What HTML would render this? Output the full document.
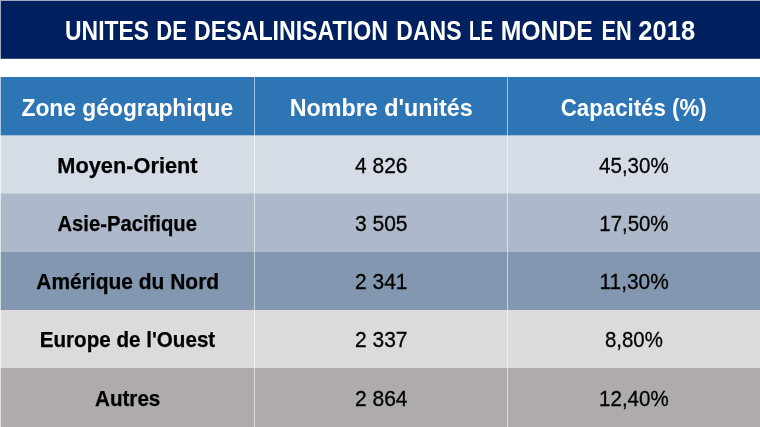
<!DOCTYPE html>
<html lang="fr">
<head>
<meta charset="utf-8">
<title>Unités de désalinisation dans le monde en 2018</title>
<style>
  html, body { margin: 0; padding: 0; }
  body {
    width: 760px; height: 427px; overflow: hidden; position: relative;
    background: #ffffff;
    font-family: "Liberation Sans", sans-serif;
  }
  .blk { position: absolute; left: 0; right: 0; }
  .banner { top: 0; height: 58px; background: #002060; }
  .head   { top: 77px; height: 58px; background: #2e75b6; }
  .r1 { top: 135px;   height: 58px;   background: #d6dce5; }
  .r2 { top: 194px;   height: 58px;   background: #adb9ca; }
  .r3 { top: 252px;   height: 58px;   background: #8497b0; }
  .r4 { top: 310px;   height: 58px;   background: #dbdbdb; }
  .r5 { top: 368px;   height: 59px;   background: #afabab; }
  .s58  { top: 58px;  height: 1px; background: #334d80; }
  .s135 { top: 135px; height: 1px; background: #a4bdd7; }
  .s193 { top: 193px; height: 1px; background: #c2cbd8; }
  .edge { position: absolute; left: 0; top: 0; width: 1px; height: 427px; background: rgba(255,255,255,.62); }
  .topedge { position: absolute; left: 1px; top: 0; right: 0; height: 1px; background: rgba(255,255,255,.62); }
  .vl { position: absolute; top: 77px; bottom: 0; width: 1px; background: rgba(255,255,255,.57); }
  .v1 { left: 254px; }
  .v2 { left: 507px; }

  .t { position: absolute; white-space: nowrap; text-align: center; line-height: 1; will-change: transform; }
  .t span { display: inline-block; transform-origin: 50% 50%; }
  .c0 { left: 1px; width: 759px; }
  .c1 { left: 1px; width: 253px; }
  .c2 { left: 255px; width: 252px; }
  .c3 { left: 508px; width: 252px; }
  .title { color: #fff; font-weight: bold; font-size: 26.75px; }
  .th { color: #fff; font-weight: bold; font-size: 24px; }
  .lab { color: #000; font-weight: bold; font-size: 21.25px; -webkit-text-stroke: 0.25px #000; }
  .num { color: #000; font-weight: normal; font-size: 21.75px; -webkit-text-stroke: 0.3px #000; }
</style>
</head>
<body>
  <div class="blk banner"></div>
  <div class="blk head"></div>
  <div class="blk r1"></div>
  <div class="blk r2"></div>
  <div class="blk r3"></div>
  <div class="blk r4"></div>
  <div class="blk r5"></div>
  <div class="blk s58"></div>
  <div class="blk s135"></div>
  <div class="blk s193"></div>
  <div class="edge"></div>
  <div class="topedge"></div>
  <div class="vl v1"></div>
  <div class="vl v2"></div>

  <div class="t title" style="top:17.5px;left:-43.00px;width:300px"><span id="w1" style="transform:scaleX(0.8553)">UNITES</span></div>
  <div class="t title" style="top:17.5px;left:22.00px;width:300px"><span id="w2" style="transform:scaleX(0.8259)">DE</span></div>
  <div class="t title" style="top:17.5px;left:141.45px;width:300px"><span id="w3" style="transform:scaleX(0.8655)">DESALINISATION</span></div>
  <div class="t title" style="top:17.5px;left:279.00px;width:300px"><span id="w4" style="transform:scaleX(0.8615)">DANS</span></div>
  <div class="t title" style="top:17.5px;left:331.05px;width:300px"><span id="w5" style="transform:scaleX(0.7079)">LE</span></div>
  <div class="t title" style="top:17.5px;left:397.15px;width:300px"><span id="w6" style="transform:scaleX(0.9259)">MONDE</span></div>
  <div class="t title" style="top:17.5px;left:466.50px;width:300px"><span id="w7" style="transform:scaleX(0.8151)">EN</span></div>
  <div class="t title" style="top:17.5px;left:517.35px;width:300px"><span id="w8" style="transform:scaleX(0.9544)">2018</span></div>
  <div class="t c1 th" style="top:96px"><span id="h1" style="transform:scaleX(0.9512)">Zone géographique</span></div>
  <div class="t c2 th" style="top:96px"><span id="h2" style="transform:scaleX(0.9714)">Nombre d'unités</span></div>
  <div class="t c3 th" style="top:96px"><span id="h3" style="transform:scaleX(0.9264)">Capacités (%)</span></div>

  <div class="t c1 lab" style="top:155.5px"><span id="a1" style="transform:scaleX(1.0241)">Moyen-Orient</span></div>
  <div class="t c2 num" style="top:155px"><span id="b1" style="transform:scaleX(0.9644)">4 826</span></div>
  <div class="t c3 num" style="top:155px"><span id="c1" style="transform:scaleX(0.9447)">45,30%</span></div>

  <div class="t c1 lab" style="top:213.5px"><span id="a2" style="transform:scaleX(0.953)">Asie-Pacifique</span></div>
  <div class="t c2 num" style="top:213px"><span id="b2" style="transform:scaleX(0.9644)">3 505</span></div>
  <div class="t c3 num" style="top:213px"><span id="c2" style="transform:scaleX(0.9379)">17,50%</span></div>

  <div class="t c1 lab" style="top:271.5px"><span id="a3" style="transform:scaleX(0.9865)">Amérique du Nord</span></div>
  <div class="t c2 num" style="top:271px"><span id="b3" style="transform:scaleX(0.9644)">2 341</span></div>
  <div class="t c3 num" style="top:271px"><span id="c3" style="transform:scaleX(0.959)">11,30%</span></div>

  <div class="t c1 lab" style="top:329.5px"><span id="a4" style="transform:scaleX(0.9693)">Europe de l'Ouest</span></div>
  <div class="t c2 num" style="top:329px"><span id="b4" style="transform:scaleX(0.9644)">2 337</span></div>
  <div class="t c3 num" style="top:329px"><span id="c4" style="transform:scaleX(0.9388)">8,80%</span></div>

  <div class="t c1 lab" style="top:388.5px"><span id="a5" style="transform:scaleX(0.9708)">Autres</span></div>
  <div class="t c2 num" style="top:388px"><span id="b5" style="transform:scaleX(0.9644)">2 864</span></div>
  <div class="t c3 num" style="top:388px"><span id="c5" style="transform:scaleX(0.9447)">12,40%</span></div>
</body>
</html>
